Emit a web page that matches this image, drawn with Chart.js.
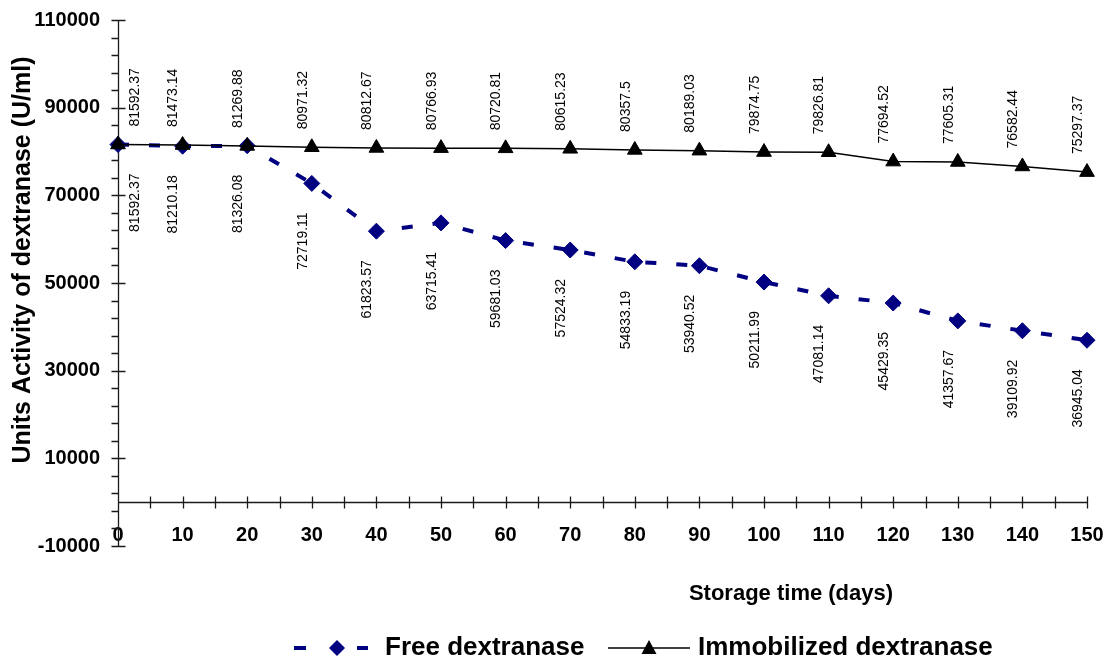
<!DOCTYPE html>
<html>
<head>
<meta charset="utf-8">
<script src="https://cdn.jsdelivr.net/npm/chart.js"></script>
<style>
    html, body { margin: 0; padding: 0; background: #fff; }
    #contenedor { width: 1110px; height: 663px; }
</style>
</head>
<body>
<div id="contenedor"><canvas id="grafico"></canvas></div>
<script>
// Datos: actividad de dextranasa durante el almacenamiento
const dias = [0, 10, 20, 30, 40, 50, 60, 70, 80, 90, 100, 110, 120, 130, 140, 150];
const libre = [81592.37, 81210.18, 81326.08, 72719.11, 61823.57, 63715.41, 59681.03, 57524.32,
    54833.19, 53940.52, 50211.99, 47081.14, 45429.35, 41357.67, 39109.92, 36945.04];
const inmovilizada = [81592.37, 81473.14, 81269.88, 80971.32, 80812.67, 80766.93, 80720.81, 80615.23,
    80357.5, 80189.03, 79874.75, 79826.81, 77694.52, 77605.31, 76582.44, 75297.37];

const nombresSeries = ["Free dextranase", "Immobilized dextranase"];
const tituloX = "Storage time (days)";
const tituloY = "Units Activity of dextranase (U/ml)";

// Escalas
const yMin = -10000, yMax = 110000, yPaso = 20000, yPasoMenor = 4000;
const xMin = 0, xMax = 150, xPaso = 10, xPasoMenor = 5;

const FUENTE = "'Liberation Sans', Arial, Helvetica, sans-serif";
const AZUL = "#000080";

// Ejes cruzando en cero, con marcas mayores y menores
const ejesPlugin = {
    id: "ejes",
    beforeDatasetsDraw(chart) {
        const { ctx, chartArea, scales: { x, y } } = chart;
        const x0 = Math.round(x.getPixelForValue(0)) + 0.5;
        const y0 = Math.round(y.getPixelForValue(0)) + 0.5;
        ctx.save();
        ctx.strokeStyle = "#1a1a1a";
        ctx.lineWidth = 1.3;
        ctx.beginPath();
        ctx.moveTo(x0, chartArea.top);
        ctx.lineTo(x0, chartArea.bottom);
        for (let v = yMin; v <= yMax; v += yPasoMenor) {
            const py = Math.round(y.getPixelForValue(v)) + 0.5;
            const mayor = (v - yMin) % yPaso === 0;
            ctx.moveTo(x0 - 7, py);
            ctx.lineTo(mayor ? x0 + 7 : x0, py);
        }
        ctx.moveTo(chartArea.left, y0);
        ctx.lineTo(chartArea.right, y0);
        for (let d = xMin; d <= xMax; d += xPasoMenor) {
            const px = Math.round(x.getPixelForValue(d)) + 0.5;
            ctx.moveTo(px, y0 - 6);
            ctx.lineTo(px, y0 + 6);
        }
        ctx.stroke();
        ctx.restore();
    }
};

// Etiquetas verticales con el valor de cada punto
const etiquetasPlugin = {
    id: "etiquetas",
    afterDatasetsDraw(chart) {
        const { ctx, chartArea } = chart;
        ctx.save();
        ctx.font = `14px ${FUENTE}`;
        ctx.fillStyle = "#000";
        ctx.textBaseline = "middle";
        chart.data.datasets.forEach((ds, i) => {
            const meta = chart.getDatasetMeta(i);
            const arriba = ds.etiquetaArriba;
            meta.data.forEach((pt, j) => {
                const texto = String(ds.data[j].y);
                const px = Math.max(pt.x - 9, chartArea.left + 17);
                const py = arriba ? pt.y - 18 : pt.y + 29;
                ctx.save();
                ctx.translate(px, py);
                ctx.rotate(-Math.PI / 2);
                ctx.textAlign = arriba ? "left" : "right";
                ctx.fillText(texto, 0, 0);
                ctx.restore();
            });
        });
        ctx.restore();
    }
};

// Títulos de los ejes y leyenda inferior
const textosPlugin = {
    id: "textos",
    afterDraw(chart) {
        const { ctx } = chart;
        ctx.save();
        ctx.fillStyle = "#000";
        ctx.textBaseline = "middle";

        ctx.font = `bold 22px ${FUENTE}`;
        ctx.textAlign = "center";
        ctx.fillText(tituloX, 791, 594);

        ctx.save();
        ctx.translate(23, 260);
        ctx.rotate(-Math.PI / 2);
        ctx.font = `bold 25px ${FUENTE}`;
        ctx.fillText(tituloY, 0, 0);
        ctx.restore();

        // Leyenda
        const yl = 648;
        ctx.strokeStyle = AZUL;
        ctx.lineWidth = 4;
        ctx.beginPath();
        ctx.moveTo(294, yl); ctx.lineTo(306, yl);
        ctx.moveTo(357, yl); ctx.lineTo(368, yl);
        ctx.stroke();
        ctx.fillStyle = AZUL;
        ctx.beginPath();
        ctx.moveTo(337 - 8, yl); ctx.lineTo(337, yl - 8);
        ctx.lineTo(337 + 8, yl); ctx.lineTo(337, yl + 8);
        ctx.closePath();
        ctx.fill();

        ctx.strokeStyle = "#000";
        ctx.lineWidth = 1.3;
        ctx.beginPath();
        ctx.moveTo(608, yl); ctx.lineTo(690, yl);
        ctx.stroke();
        ctx.fillStyle = "#000";
        ctx.beginPath();
        ctx.moveTo(649, yl - 8); ctx.lineTo(656.5, yl + 6); ctx.lineTo(641.5, yl + 6);
        ctx.closePath();
        ctx.fill();

        ctx.font = `bold 26px ${FUENTE}`;
        ctx.textAlign = "left";
        ctx.fillText(nombresSeries[0], 385, yl);
        ctx.fillText(nombresSeries[1], 698, yl);
        ctx.restore();
    }
};

const puntos = (valores) => dias.map((d, i) => ({ x: d, y: valores[i] }));

const ctx = document.getElementById("grafico").getContext("2d");

const grafico = new Chart(ctx, {
    type: "line",
    data: {
        datasets: [{
            label: nombresSeries[0],
            data: puntos(libre),
            borderColor: AZUL,
            backgroundColor: AZUL,
            borderWidth: 4,
            borderDash: [11, 20],
            borderCapStyle: "butt",
            pointStyle: "rectRot",
            pointRadius: 8,
            pointBorderWidth: 1,
            pointBackgroundColor: AZUL,
            pointBorderColor: AZUL,
            tension: 0,
            clip: false,
            order: 1,
            etiquetaArriba: false
        }, {
            label: nombresSeries[1],
            data: puntos(inmovilizada),
            borderColor: "#000",
            backgroundColor: "#000",
            borderWidth: 1.5,
            pointStyle: "triangle",
            pointRadius: 8.5,
            pointBorderWidth: 1,
            pointBackgroundColor: "#000",
            pointBorderColor: "#000",
            tension: 0,
            clip: false,
            order: 0,
            etiquetaArriba: true
        }]
    },
    options: {
        responsive: true,
        maintainAspectRatio: false,
        animation: false,
        events: [],
        layout: { padding: { top: 20, right: 23, bottom: 117, left: 0 } },
        plugins: {
            legend: { display: false },
            tooltip: { enabled: false }
        },
        scales: {
            x: {
                type: "linear",
                position: { y: 0 },
                min: xMin,
                max: xMax,
                grid: { display: false, drawTicks: false, tickLength: 0 },
                border: { display: false },
                ticks: {
                    stepSize: xPaso,
                    autoSkip: false,
                    maxRotation: 0,
                    padding: 21,
                    color: "#000",
                    font: { family: FUENTE, size: 20, weight: "bold" },
                    callback: (valor) => String(valor)
                },
                afterFit(escala) {
                    escala.height = 0;
                    escala.paddingLeft = 0;
                    escala.paddingRight = 0;
                }
            },
            y: {
                type: "linear",
                position: "left",
                min: yMin,
                max: yMax,
                grid: { display: false, drawTicks: false, tickLength: 0 },
                border: { display: false },
                ticks: {
                    stepSize: yPaso,
                    padding: 18,
                    color: "#000",
                    font: { family: FUENTE, size: 20, weight: "bold" },
                    callback: (valor) => String(valor)
                },
                afterFit(escala) {
                    escala.width = 118;
                    escala.paddingTop = 0;
                    escala.paddingBottom = 0;
                }
            }
        }
    },
    plugins: [ejesPlugin, etiquetasPlugin, textosPlugin]
});
</script>
</body>
</html>
